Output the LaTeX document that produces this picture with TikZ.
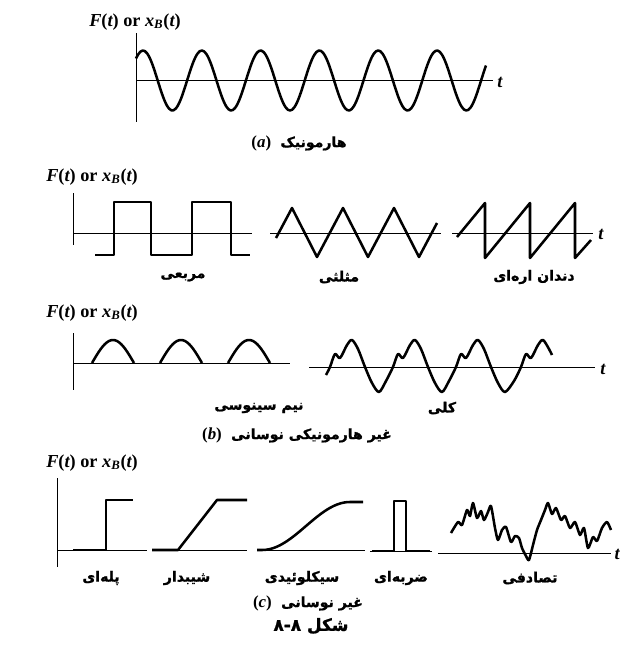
\documentclass[tikz,border=0pt]{standalone}
\usepackage{fontspec}
\newfontfamily\fa[Script=Arabic, BoldFeatures={FakeBold=1.2}]{DejaVu Sans}
\newfontfamily\tms{Liberation Serif}
\TeXXeTstate=1
\newcommand{\fat}[1]{{\fa\bfseries\beginR #1\endR}}
\newcommand{\ylab}{{\tms\bfseries\itshape F{\upshape(}t{\upshape)} {\upshape or} x\textsubscript{B}{\upshape(}t{\upshape)}}}
\newcommand{\tlab}{{\tms\bfseries\itshape t}}
\newcommand{\plab}[1]{{\tms\bfseries{\upshape(}\itshape #1\/{\upshape)}}}
\begin{document}
\begin{tikzpicture}[x=0.025cm, y=-0.025cm,
		axisln/.style={line width=0.7pt},
		sig/.style={line width=1.8pt, line join=round},
		ylabel/.style={font=\fontsize{13}{15}\selectfont, inner sep=0pt},
		falabel/.style={font=\fontsize{10}{12}\selectfont, inner sep=0pt}]
	\useasboundingbox (0,0) rectangle (620,653);

	% (a)
	\begin{scope}
		\node[ylabel] (ya) at (135,22) {\ylab};
		\draw[axisln] (136,33) -- (136,122);
		\draw[axisln] (136,80.5) -- (493,80.5);
		\node[ylabel, right] (ta) at (497,82) {\tlab};
		\draw[sig] plot[domain=136:486, samples=160, smooth] (\x, {80.5-30*cos(6.12245*(\x-143))});
		\node[falabel] (capa) at (299,143) {{\fontsize{12}{14}\selectfont\plab{a}}~~\fat{هارمونیک}};
	\end{scope}

	% (b) first row
	\begin{scope}
		\node[ylabel, right] (yb) at (46,177) {\ylab};
		\draw[axisln] (73,193) -- (73,245);
		\draw[axisln] (73,233) -- (252,233);
		\draw[axisln] (270,233) -- (441,233);
		\draw[axisln] (452,233) -- (593,233);
		\node[ylabel, right] (tb) at (598,234) {\tlab};
		\draw[sig] (95,255) -- (114,255) -- (114,202) -- (151,202) -- (151,255)
			-- (192,255) -- (192,202) -- (231,202) -- (231,255) -- (250,255);
		\draw[sig] (276,238) -- (292,208) -- (317,257) -- (343,208) -- (368,257)
			-- (394,208) -- (419,257) -- (437,223);
		\draw[sig] (457,237) -- (485,203) -- (485,258) -- (530,203) -- (530,258)
			-- (575,203) -- (575,258) -- (591,240);
		\node[falabel] (sq) at (183,277) {\fat{مربعی}};
		\node[falabel] (tri) at (339,277) {\fat{مثلثی}};
		\node[falabel] (saw) at (534,277) {\fat{دندان اره^^^^200cای}};
	\end{scope}

	% (b) second row
	\begin{scope}
		\node[ylabel, right] (yc) at (46,313) {\ylab};
		\draw[axisln] (73,333) -- (73,390);
		\draw[axisln] (73,363) -- (290,363);
		\draw[axisln] (309,367) -- (595,367);
		\node[ylabel, right] (tc) at (600,369) {\tlab};
		\foreach \a in {92,160,228} {
			\draw[sig] plot[domain=0:42, samples=30, smooth] ({\a+\x}, {363-23*sin(180*\x/42)});
		}
		\draw[sig] plot[smooth] coordinates {
			(326,375) (330,367) (335,354) (340,358) (347,345) (352,340) (358,349)
			(365,367) (372,383) (379,392)
			(386,381) (393,367) (398,354) (403,358) (410,345) (415,340) (421,349)
			(428,367) (435,383) (442,392)
			(449,381) (456,367) (461,354) (466,358) (473,345) (478,340) (484,349)
			(491,367) (498,383) (505,392)
			(514,381) (521,367) (526,354) (531,358) (538,345) (543,340) (549,349)
			(552,355)};
		\node[falabel] (half) at (259,408) {\fat{نیم سینوسی}};
		\node[falabel] (gen) at (442,408) {\fat{کلی}};
		\node[falabel] (capb) at (297,435) {{\fontsize{12}{14}\selectfont\plab{b}}~~\fat{غیر هارمونیکی نوسانی}};
	\end{scope}

	% (c)
	\begin{scope}
		\node[ylabel, right] (yd) at (46,463) {\ylab};
		\draw[axisln] (57,478) -- (57,567);
		\draw[axisln] (57,550) -- (147,550);
		\draw[axisln] (152,550) -- (247,550);
		\draw[axisln] (257,550) -- (365,550);
		\draw[axisln] (370,551) -- (432,551);
		\draw[axisln] (438,553) -- (611,553);
		\node[ylabel, anchor=east] (td) at (620,554) {\tlab};
		\draw[sig] (73,550) -- (106,550) -- (106,500) -- (133,500);
		\draw[sig] (152,550) -- (178,550) -- (217,500) -- (247,500);
		\draw[sig] (257,550) -- (262,550)
			-- plot[domain=0:1, samples=40] ({262+88*\x}, {550-48*(1-cos(180*\x))/2})
			-- (363,502);
		\draw[sig] (372,551) -- (394,551) -- (394,501) -- (406,501) -- (406,551) -- (430,551);
		\draw[sig] plot[smooth, tension=0.4] coordinates {
			(451,533) (458,522) (462,525) (467,510) (470,516) (473,503) (477,518)
			(481,511) (484,520) (488,512) (491,506) (495,528) (498,540) (502,530)
			(506,527) (511,542) (515,536) (519,538) (522,548) (526,556) (529,560)
			(533,545) (537,530) (541,520) (545,510) (548,503) (552,514) (556,508)
			(561,520) (565,516) (570,528) (575,522) (580,535) (584,528) (588,548)
			(593,537) (597,541) (602,528) (607,522) (611,530)};
		\node[falabel] (stp) at (101,578) {\fat{پله^^^^200cای}};
		\node[falabel] (rmp) at (187,578) {\fat{شیبدار}};
		\node[falabel] (cyc) at (302,578) {\fat{سیکلوئیدی}};
		\node[falabel] (pls) at (401,578) {\fat{ضربه^^^^200cای}};
		\node[falabel] (rnd) at (530,578) {\fat{تصادفی}};
		\node[falabel] (capc) at (308,603) {{\fontsize{12}{14}\selectfont\plab{c}}~~\fat{غیر نوسانی}};
		\node[font=\fontsize{12}{14}\selectfont, inner sep=0pt] (fig) at (311,626) {\fat{شکل ۸-۸}};
	\end{scope}
\end{tikzpicture}
\end{document}
